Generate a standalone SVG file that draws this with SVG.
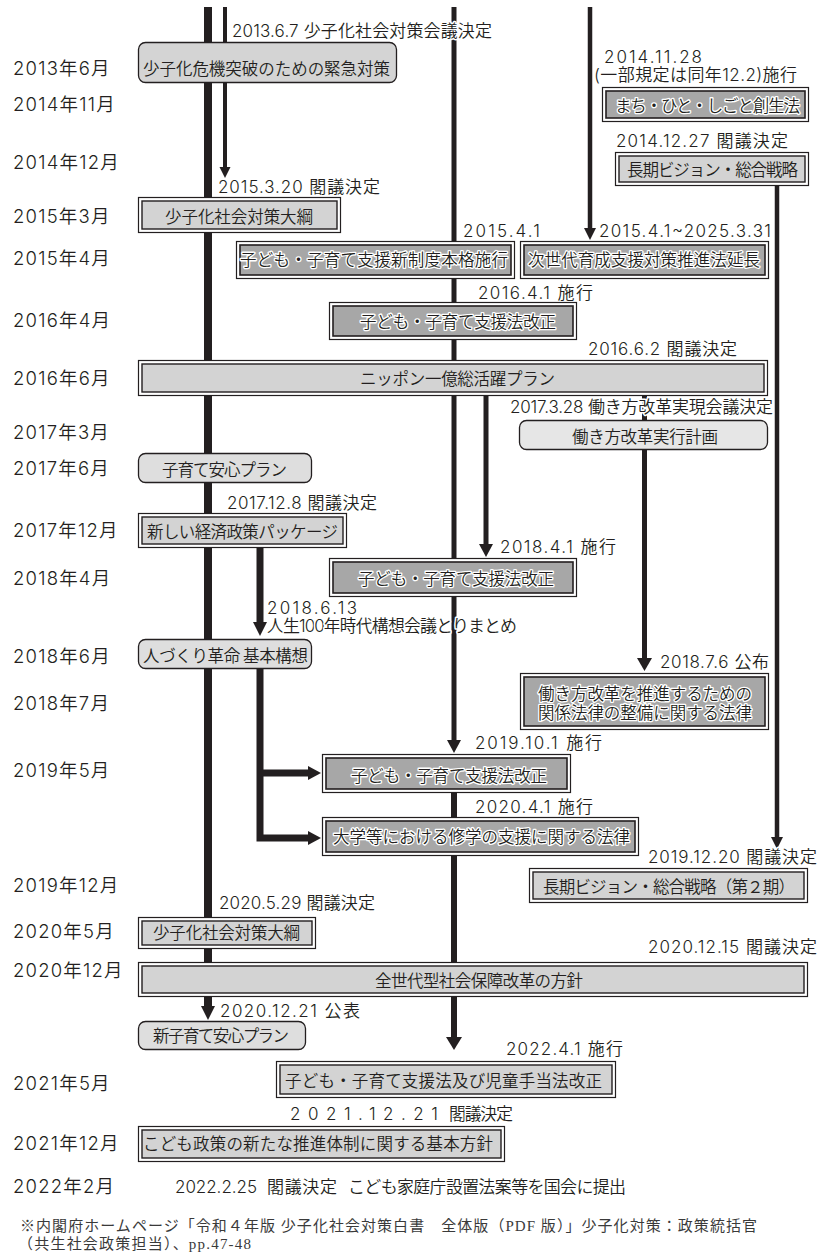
<svg xmlns="http://www.w3.org/2000/svg" width="821" height="1256" viewBox="0 0 821 1256">
<style>
.ln{stroke:#231f20;fill:none;stroke-linecap:butt}
.ah{fill:#231f20}
.m{font-family:"Inter","Noto Sans CJK JP",sans-serif;font-size:18.5px;font-weight:350;letter-spacing:1.2px;fill:#231f20}
.l{font-family:"Inter","Noto Sans CJK JP",sans-serif;font-size:17px;font-weight:350;fill:#231f20;stroke:#fff;stroke-width:3px;paint-order:stroke;stroke-linejoin:round}
.b{font-family:"Noto Sans CJK JP",sans-serif;font-size:16.5px;font-weight:350;fill:#231f20;text-anchor:middle}
.h{stroke:#fff;stroke-width:2.6px;paint-order:stroke;stroke-linejoin:round}
.o{fill:#fff;stroke:#231f20;stroke-width:1.2}
.il{fill:#d3d3d3;stroke:#231f20;stroke-width:1.4}
.id{fill:#a7a7a7;stroke:#231f20;stroke-width:1.6}
.r{fill:#dedede;stroke:#231f20;stroke-width:1.3}
.fn{font-family:"Liberation Serif","Noto Sans CJK JP",serif;font-size:15px;fill:#3a3a3a}
</style>
<rect width="821" height="1256" fill="#fff"/>

<g id="months">
<text class="m" x="13" y="75">2013年6月</text>
<text class="m" x="13" y="111">2014年11月</text>
<text class="m" x="13" y="169">2014年12月</text>
<text class="m" x="13" y="223">2015年3月</text>
<text class="m" x="13" y="265">2015年4月</text>
<text class="m" x="13" y="327">2016年4月</text>
<text class="m" x="13" y="385">2016年6月</text>
<text class="m" x="13" y="439">2017年3月</text>
<text class="m" x="13" y="475">2017年6月</text>
<text class="m" x="13" y="537">2017年12月</text>
<text class="m" x="13" y="585">2018年4月</text>
<text class="m" x="13" y="663">2018年6月</text>
<text class="m" x="13" y="710">2018年7月</text>
<text class="m" x="13" y="777">2019年5月</text>
<text class="m" x="13" y="892">2019年12月</text>
<text class="m" x="13" y="938">2020年5月</text>
<text class="m" x="13" y="977">2020年12月</text>
<text class="m" x="13" y="1090">2021年5月</text>
<text class="m" x="13" y="1150">2021年12月</text>
<text class="m" x="13" y="1193">2022年2月</text>
</g>

<g id="connectors">
<line class="ln" x1="208" y1="7" x2="208" y2="1007" stroke-width="8"/>
<polygon class="ah" points="201,1006 215,1006 208,1020"/>
<line class="ln" x1="225" y1="7" x2="225" y2="168" stroke-width="4"/>
<polygon class="ah" points="219.5,167 230.5,167 225,178"/>
<line class="ln" x1="454" y1="7" x2="454" y2="741" stroke-width="5"/>
<polygon class="ah" points="447,740 461,740 454,753"/>
<line class="ln" x1="454" y1="793" x2="454" y2="1038" stroke-width="6"/>
<polygon class="ah" points="446,1037 462,1037 454,1050"/>
<line class="ln" x1="590" y1="7" x2="590" y2="229" stroke-width="4.5"/>
<polygon class="ah" points="584,228 596,228 590,240"/>
<line class="ln" x1="777" y1="186" x2="777" y2="838" stroke-width="4.5"/>
<polygon class="ah" points="771,837 783,837 777,849"/>
<line class="ln" x1="644.5" y1="396" x2="644.5" y2="420" stroke-width="5"/>
<line class="ln" x1="644.5" y1="450" x2="644.5" y2="659" stroke-width="5"/>
<polygon class="ah" points="637,658 652,658 644.5,671"/>
<line class="ln" x1="486" y1="396" x2="486" y2="545" stroke-width="5"/>
<polygon class="ah" points="479,544 493,544 486,557"/>
<line class="ln" x1="260" y1="548" x2="260" y2="623" stroke-width="7"/>
<polygon class="ah" points="253,622 267,622 260,636"/>
<path class="ln" d="M260 669 V838 H309" stroke-width="7"/>
<line class="ln" x1="260" y1="773" x2="309" y2="773" stroke-width="7"/>
<polygon class="ah" points="308,766 308,780 321,773"/>
<polygon class="ah" points="308,831 308,845 321,838"/>
</g>

<g id="labels">
<text class="l" x="232" y="37" textLength="260">2013.6.7 少子化社会対策会議決定</text>
<text class="l" x="604" y="63" textLength="98">2014.11.28</text>
<text class="l" x="594" y="81" textLength="203">(一部規定は同年12.2)施行</text>
<text class="l" x="616" y="147" textLength="172">2014.12.27 閣議決定</text>
<text class="l" x="218" y="193" textLength="162">2015.3.20 閣議決定</text>
<text class="l" x="463" y="237" textLength="77">2015.4.1</text>
<text class="l" x="599" y="237" textLength="172">2015.4.1~2025.3.31</text>
<text class="l" x="478" y="299" textLength="115">2016.4.1 施行</text>
<text class="l" x="588" y="355" textLength="149">2016.6.2 閣議決定</text>
<text class="l" x="510" y="413" textLength="263">2017.3.28 働き方改革実現会議決定</text>
<text class="l" x="227" y="509" textLength="150">2017.12.8 閣議決定</text>
<text class="l" x="500" y="553" textLength="116">2018.4.1 施行</text>
<text class="l" x="267" y="614" textLength="90">2018.6.13</text>
<text class="l" x="267" y="632" textLength="250">人生100年時代構想会議とりまとめ</text>
<text class="l" x="660" y="668" textLength="109">2018.7.6 公布</text>
<text class="l" x="475" y="749" textLength="127">2019.10.1 施行</text>
<text class="l" x="475" y="813" textLength="118">2020.4.1 施行</text>
<text class="l" x="648" y="863" textLength="169">2019.12.20 閣議決定</text>
<text class="l" x="219" y="909" textLength="156">2020.5.29 閣議決定</text>
<text class="l" x="648" y="953" textLength="169">2020.12.15 閣議決定</text>
<text class="l" x="220" y="1017" textLength="140">2020.12.21 公表</text>
<text class="l" x="506" y="1055" textLength="117">2022.4.1 施行</text>
<text class="l" y="1120"><tspan x="290" textLength="148">2021.12.21</tspan><tspan x="449" textLength="64">閣議決定</tspan></text>
<text class="l" y="1193"><tspan x="175" textLength="82">2022.2.25</tspan><tspan x="267" textLength="70">閣議決定</tspan><tspan x="348" textLength="278">こども家庭庁設置法案等を国会に提出</tspan></text>
</g>

<g id="n-kinkyu"><rect class="r" x="138.5" y="42.5" width="258" height="40" rx="7" style="fill:#d4d4d4"/><text class="b" x="266.5" y="75" textLength="247">少子化危機突破のための緊急対策</text></g>
<g id="n-machi"><rect class="o" x="602.5" y="87.5" width="206" height="34"/><rect class="id" x="606" y="91" width="199" height="27"/><text class="b h" x="707.5" y="111.5" textLength="185">まち・ひと・しごと創生法</text></g>
<g id="n-vision1"><rect class="o" x="615.5" y="152.5" width="193" height="33"/><rect class="il" x="619" y="156" width="186" height="26"/><text class="b" x="712.5" y="176" textLength="171">長期ビジョン・総合戦略</text></g>
<g id="n-taiko2015"><rect class="o" x="138.5" y="197.5" width="202" height="35"/><rect class="il" x="142" y="201" width="195" height="28"/><text class="b" x="239" y="223" textLength="148">少子化社会対策大綱</text></g>
<g id="n-shinseido"><rect class="o" x="236.5" y="241.5" width="278" height="37"/><rect class="id" x="240" y="245" width="271" height="30"/><text class="b h" x="374" y="265.5" textLength="268">子ども・子育て支援新制度本格施行</text></g>
<g id="n-jisedai"><rect class="o" x="520.5" y="241.5" width="248" height="37"/><rect class="id" x="524" y="245" width="241" height="30"/><text class="b h" x="644" y="265.5" textLength="232">次世代育成支援対策推進法延長</text></g>
<g id="n-kaisei2016"><rect class="o" x="329.5" y="302.5" width="247" height="37"/><rect class="id" x="333" y="306" width="240" height="30"/><text class="b h" x="458" y="327.5" textLength="196">子ども・子育て支援法改正</text></g>
<g id="n-nippon"><rect class="o" x="138.5" y="360.5" width="629" height="35"/><rect class="il" x="142" y="364" width="622" height="28"/><text class="b" x="457.5" y="385" textLength="195">ニッポン一億総活躍プラン</text></g>
<g id="n-hatarakikata"><rect class="r" x="519.5" y="420.5" width="248" height="29" rx="7" style="fill:#e6e6e6"/><text class="b" x="645" y="443" textLength="146">働き方改革実行計画</text></g>
<g id="n-anshin"><rect class="r" x="138.5" y="453.5" width="173" height="29" rx="7"/><text class="b" x="224.5" y="476" textLength="125">子育て安心プラン</text></g>
<g id="n-keizai"><rect class="o" x="138.5" y="513.5" width="208" height="34"/><rect class="il" x="142" y="517" width="201" height="27"/><text class="b" x="242.5" y="538" textLength="191">新しい経済政策パッケージ</text></g>
<g id="n-kaisei2018"><rect class="o" x="329.5" y="558.5" width="247" height="38"/><rect class="id" x="333" y="562" width="240" height="31"/><text class="b h" x="456" y="585" textLength="196">子ども・子育て支援法改正</text></g>
<g id="n-hitozukuri"><rect class="r" x="138.5" y="639.5" width="173" height="29" rx="7"/><text class="b" x="225.5" y="661.5" textLength="165">人づくり革命 基本構想</text></g>
<g id="n-seibi"><rect class="o" x="520.5" y="673.5" width="248" height="56"/><rect class="id" x="524" y="677" width="241" height="49"/><text class="b h"><tspan x="645" y="700" textLength="214">働き方改革を推進するための</tspan><tspan x="645" y="719" textLength="214">関係法律の整備に関する法律</tspan></text></g>
<g id="n-kaisei2019"><rect class="o" x="322.5" y="754.5" width="248" height="38"/><rect class="id" x="326" y="758" width="241" height="31"/><text class="b h" x="449" y="782" textLength="196">子ども・子育て支援法改正</text></g>
<g id="n-daigaku"><rect class="o" x="322.5" y="817.5" width="316" height="38"/><rect class="id" x="326" y="821" width="309" height="31"/><text class="b h" x="481.5" y="843" textLength="297">大学等における修学の支援に関する法律</text></g>
<g id="n-vision2"><rect class="o" x="529.5" y="868.5" width="278" height="34"/><rect class="il" x="533" y="872" width="271" height="27"/><text class="b" x="669" y="893" textLength="252">長期ビジョン・総合戦略（第２期）</text></g>
<g id="n-taiko2020"><rect class="o" x="138.5" y="917.5" width="177" height="31"/><rect class="il" x="142" y="921" width="170" height="24"/><text class="b" x="226.5" y="939" textLength="147">少子化社会対策大綱</text></g>
<g id="n-zensedai"><rect class="o" x="138.5" y="962.5" width="669" height="34"/><rect class="il" x="142" y="966" width="662" height="27"/><text class="b" x="479" y="987" textLength="208">全世代型社会保障改革の方針</text></g>
<g id="n-shinanshin"><rect class="r" x="138.5" y="1021.5" width="167" height="28" rx="7"/><text class="b" x="221" y="1042" textLength="136">新子育て安心プラン</text></g>
<g id="n-kaisei2022"><rect class="o" x="276.5" y="1061.5" width="339" height="36"/><rect class="il" x="280" y="1065" width="332" height="29"/><text class="b" x="443.5" y="1086.5" textLength="317">子ども・子育て支援法及び児童手当法改正</text></g>
<g id="n-kodomo"><rect class="o" x="138.5" y="1126.5" width="366" height="35"/><rect class="il" x="142" y="1130" width="359" height="28"/><text class="b" x="318" y="1150" textLength="350">こども政策の新たな推進体制に関する基本方針</text></g>

<g id="footnote">
<text class="fn" x="20" y="1231" textLength="737">※内閣府ホームページ「令和４年版 少子化社会対策白書　全体版（PDF 版）」少子化対策：政策統括官</text>
<text class="fn" x="18" y="1249" textLength="233">（共生社会政策担当）、pp.47-48</text>
</g>
</svg>
